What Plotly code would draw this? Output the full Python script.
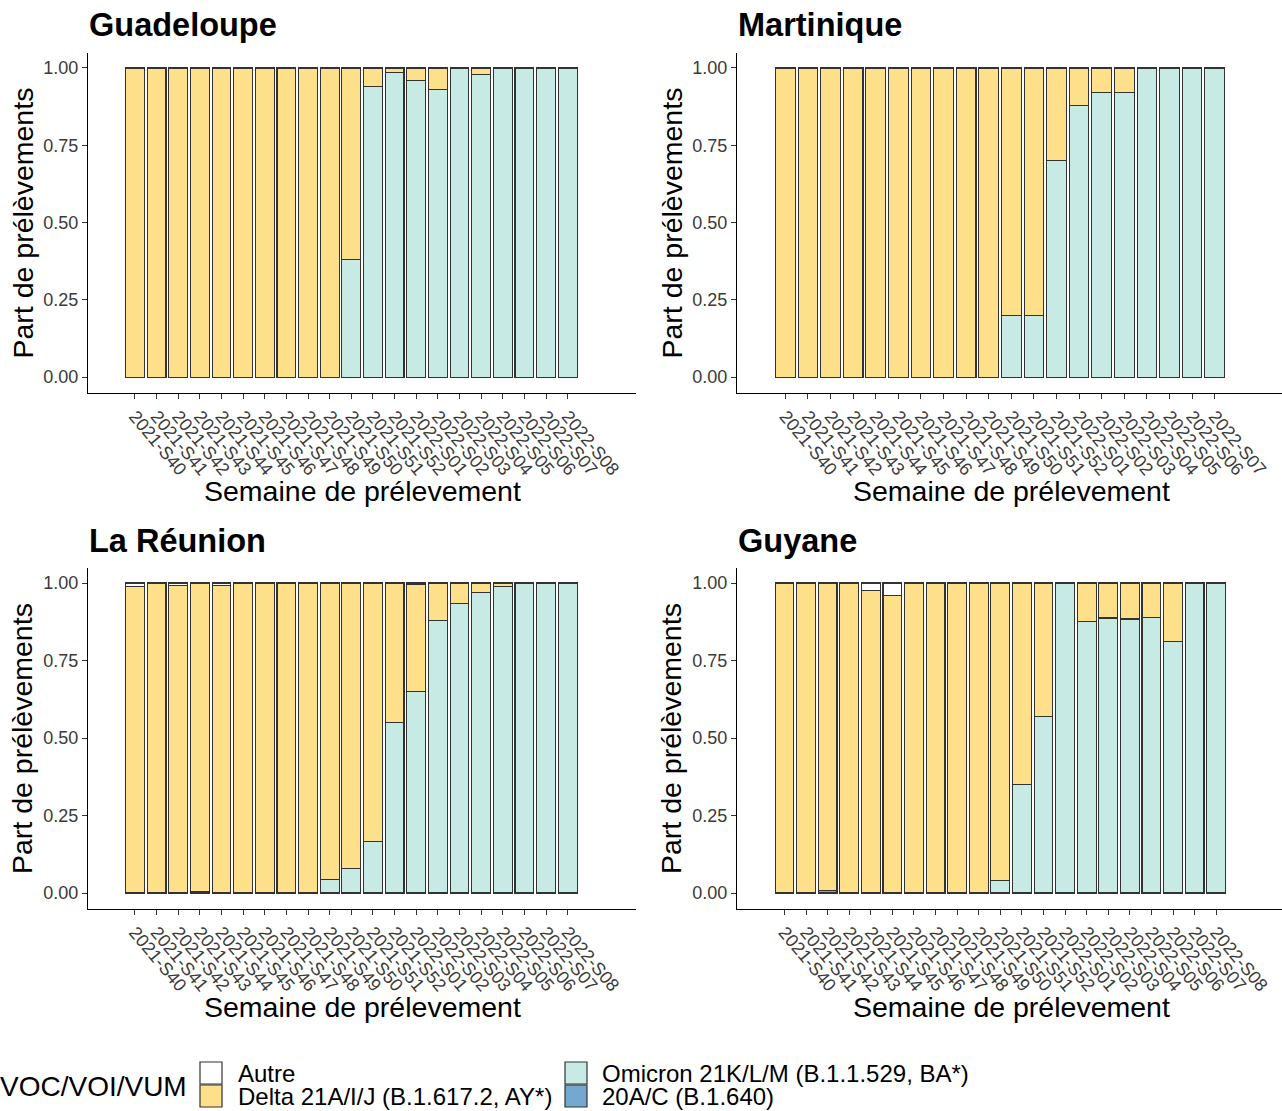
import plotly.graph_objects as go

W, H = 1282, 1111

# ---------------- data ----------------
weeks = ["2021-S40", "2021-S41", "2021-S42", "2021-S43", "2021-S44", "2021-S45",
         "2021-S46", "2021-S47", "2021-S48", "2021-S49", "2021-S50", "2021-S51",
         "2021-S52", "2022-S01", "2022-S02", "2022-S03", "2022-S04", "2022-S05",
         "2022-S06", "2022-S07", "2022-S08"]
weeks_martinique = ["2021-S40", "2021-S41", "2021-S42", "2021-S43", "2021-S44", "2021-S45",
                    "2021-S46", "2021-S47", "2021-S48", "2021-S49", "2021-S50", "2021-S51",
                    "2021-S52", "2022-S01", "2022-S02", "2022-S03", "2022-S04", "2022-S05",
                    "2022-S06", "2022-S07"]

variants = ["Autre", "Delta 21A/I/J (B.1.617.2, AY*)",
            "Omicron 21K/L/M (B.1.1.529, BA*)", "20A/C (B.1.640)"]
variant_colors = ["#FFFFFF", "#FEE08B", "#C7EAE5", "#74A9CF"]

# Guadeloupe
gua_autre   = [0, 0, 0, 0, 0, 0, 0, 0, 0, 0, 0, 0, 0, 0, 0, 0, 0, 0, 0, 0, 0]
gua_delta   = [1, 1, 1, 1, 1, 1, 1, 1, 1, 1, 0.62, 0.06, 0.015, 0.04, 0.07, 0, 0.02, 0, 0, 0, 0]
gua_omicron = [0, 0, 0, 0, 0, 0, 0, 0, 0, 0, 0.38, 0.94, 0.985, 0.96, 0.93, 1, 0.98, 1, 1, 1, 1]
gua_b1640   = [0, 0, 0, 0, 0, 0, 0, 0, 0, 0, 0, 0, 0, 0, 0, 0, 0, 0, 0, 0, 0]

# Martinique
mtq_autre   = [0, 0, 0, 0, 0, 0, 0, 0, 0, 0, 0, 0, 0, 0, 0, 0, 0, 0, 0, 0]
mtq_delta   = [1, 1, 1, 1, 1, 1, 1, 1, 1, 1, 0.8, 0.8, 0.30, 0.12, 0.08, 0.08, 0, 0, 0, 0]
mtq_omicron = [0, 0, 0, 0, 0, 0, 0, 0, 0, 0, 0.2, 0.2, 0.70, 0.88, 0.92, 0.92, 1, 1, 1, 1]
mtq_b1640   = [0, 0, 0, 0, 0, 0, 0, 0, 0, 0, 0, 0, 0, 0, 0, 0, 0, 0, 0, 0]

# La Réunion
reu_autre   = [0.012, 0, 0.008, 0.003, 0.008, 0, 0, 0, 0, 0, 0, 0, 0.003, 0.005, 0, 0.003, 0, 0, 0, 0, 0]
reu_delta   = [0.988, 1, 0.992, 0.992, 0.989, 1, 1, 1, 1, 0.955, 0.92, 0.835, 0.447, 0.345, 0.12,
               0.062, 0.03, 0.01, 0.003, 0, 0]
reu_omicron = [0, 0, 0, 0, 0, 0, 0, 0, 0, 0.045, 0.08, 0.165, 0.55, 0.65, 0.88, 0.935, 0.97,
               0.99, 0.997, 1, 1]
reu_b1640   = [0, 0, 0, 0.005, 0.003, 0, 0, 0, 0, 0, 0, 0, 0, 0, 0, 0, 0, 0, 0, 0, 0]

# Guyane
guf_autre   = [0, 0, 0, 0, 0.023, 0.039, 0, 0, 0, 0, 0, 0, 0, 0, 0, 0, 0, 0, 0, 0, 0]
guf_delta   = [1, 1, 0.992, 1, 0.977, 0.961, 1, 1, 1, 1, 0.96, 0.65, 0.43, 0, 0.123, 0.113,
               0.116, 0.11, 0.19, 0, 0]
guf_omicron = [0, 0, 0, 0, 0, 0, 0, 0, 0, 0, 0.04, 0.35, 0.57, 1, 0.877, 0.887, 0.884, 0.89,
               0.81, 1, 1]
guf_b1640   = [0, 0, 0.008, 0, 0, 0, 0, 0, 0, 0, 0, 0, 0, 0, 0, 0, 0, 0, 0, 0, 0]

y_ticks = [0, 0.25, 0.5, 0.75, 1]

# ---------------- layout helpers ----------------
def fx(p):
    return p / W


def fy(p):
    return 1 - p / H


panels = [
    dict(title="Guadeloupe", cats=weeks, series=[gua_autre, gua_delta, gua_omicron, gua_b1640],
         xdom=(88, 636), ydom=(52.5, 392.5), xrange=(-2.17, 23.16)),
    dict(title="Martinique", cats=weeks_martinique,
         series=[mtq_autre, mtq_delta, mtq_omicron, mtq_b1640],
         xdom=(737, 1282), ydom=(52.5, 392.5), xrange=(-2.14, 21.98)),
    dict(title="La Réunion", cats=weeks, series=[reu_autre, reu_delta, reu_omicron, reu_b1640],
         xdom=(88, 636), ydom=(567.5, 908.5), xrange=(-2.17, 23.16)),
    dict(title="Guyane", cats=weeks, series=[guf_autre, guf_delta, guf_omicron, guf_b1640],
         xdom=(737, 1282), ydom=(567.5, 908.5), xrange=(-2.2, 23.05)),
]

FONT = "Liberation Sans, Arial, sans-serif"
TICK_COLOR = "#3A3A3A"
fig = go.Figure()
layout = dict(
    width=W, height=H,
    margin=dict(l=0, r=0, t=0, b=0),
    paper_bgcolor="white", plot_bgcolor="white",
    barmode="stack", bargap=0.13,
    showlegend=False,
    font=dict(family=FONT, color="black"),
)
annotations = []
shapes = []

for i, p in enumerate(panels):
    n = "" if i == 0 else str(i + 1)
    xref, yref = "x" + n, "y" + n
    # stack from bottom: 20A/C, Omicron, Delta, Autre
    for vi in [3, 2, 1, 0]:
        vals = [v if v > 0 else None for v in p["series"][vi]]
        fig.add_trace(go.Bar(
            x=p["cats"], y=vals, name=variants[vi],
            marker=dict(color=variant_colors[vi], line=dict(color="#333333", width=1.1)),
            xaxis=xref, yaxis=yref, showlegend=False,
        ))
    left_x = 88 if p["xdom"][0] < 600 else 737
    layout["xaxis" + n] = dict(
        domain=[fx(p["xdom"][0]), fx(p["xdom"][1])],
        range=list(p["xrange"]), type="category",
        categoryorder="array", categoryarray=p["cats"],
        tickmode="array", tickvals=p["cats"], ticktext=p["cats"],
        tickangle=50, tickfont=dict(size=18, color=TICK_COLOR, family=FONT),
        ticks="outside", ticklen=5, tickcolor="#333333", tickwidth=1,
        showline=True, linecolor="black", linewidth=1.2,
        showgrid=False, zeroline=False, anchor=yref, fixedrange=True,
    )
    layout["yaxis" + n] = dict(
        domain=[fy(p["ydom"][1]), fy(p["ydom"][0])],
        range=[-0.05, 1.05], tickmode="array", tickvals=y_ticks, tickformat=".2f",
        tickfont=dict(size=18, color=TICK_COLOR, family=FONT),
        ticks="outside", ticklen=5, tickcolor="#333333", tickwidth=1,
        showline=True, linecolor="black", linewidth=1.2,
        showgrid=False, zeroline=False, anchor=xref, fixedrange=True,
    )
    # panel title
    annotations.append(dict(
        text="<b>" + p["title"] + "</b>", x=fx(left_x - 1), y=fy(p["ydom"][0] - 27),
        xref="paper", yref="paper", xanchor="left", yanchor="middle", showarrow=False,
        font=dict(size=32.5, color="black", family=FONT),
    ))
    # x axis title
    annotations.append(dict(
        text="Semaine de prélevement",
        x=fx(left_x + 274), y=fy(p["ydom"][1] + 98),
        xref="paper", yref="paper", xanchor="center", yanchor="middle", showarrow=False,
        font=dict(size=28.5, color="black", family=FONT),
    ))
    # y axis title
    annotations.append(dict(
        text="Part de prélèvements", textangle=-90,
        x=fx(left_x - 66), y=fy((p["ydom"][0] + p["ydom"][1]) / 2 + 1),
        xref="paper", yref="paper", xanchor="center", yanchor="middle", showarrow=False,
        font=dict(size=28.5, color="black", family=FONT),
    ))

# ---------------- legend (drawn) ----------------
annotations.append(dict(
    text="VOC/VOI/VUM", x=fx(-2), y=fy(1086), xref="paper", yref="paper",
    xanchor="left", yanchor="middle", showarrow=False,
    font=dict(size=28, color="black", family=FONT),
))
key_x = [200, 200, 565, 565]
key_y = [1062, 1085, 1062, 1085]
text_x = [236, 236, 600, 600]
for k in range(4):
    shapes.append(dict(
        type="rect", xref="paper", yref="paper",
        x0=fx(key_x[k]), x1=fx(key_x[k] + 22), y0=fy(key_y[k] + 22), y1=fy(key_y[k]),
        fillcolor=variant_colors[k], line=dict(color="#333333", width=1.2),
    ))
    annotations.append(dict(
        text=variants[k], x=fx(text_x[k]), y=fy(key_y[k] + 11.5), xref="paper", yref="paper",
        xanchor="left", yanchor="middle", showarrow=False,
        font=dict(size=24, color="black", family=FONT),
    ))

layout["annotations"] = annotations
layout["shapes"] = shapes
fig.update_layout(**layout)
fig.write_html(
    "out.html",
    config={"displayModeBar": False},
    post_script="document.body.style.margin='0';document.body.style.overflow='hidden';",
)
